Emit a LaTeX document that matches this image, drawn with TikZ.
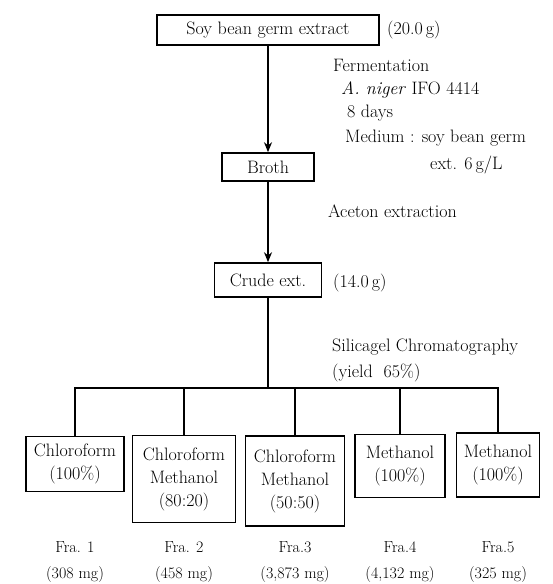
\documentclass[tikz,border=0pt]{standalone}
\usetikzlibrary{arrows.meta,positioning}
\tikzset{
  stepbox/.style={draw,line width=1.6pt,inner sep=1pt,align=center},
  note/.style={anchor=west,inner sep=0pt},
  flow/.style={line width=1.5pt},
  flowarrow/.style={flow,-{Stealth[length=10pt,width=8pt]}}
}
\begin{document}
\begin{tikzpicture}[x=1pt,y=-1pt,font=\fontsize{18}{23}\selectfont]
            \useasboundingbox (0,0) rectangle (552,584);
            %draw the main column of boxes
            \node[stepbox,minimum width=222pt,minimum height=30pt] (soy) at (268,30) {Soy bean germ extract};
            \node[stepbox,minimum width=92pt,minimum height=28pt] (broth) at (268,167) {Broth};
            \node[stepbox,minimum width=107pt,minimum height=34pt] (crude) at (268,280) {Crude ext.};
            \draw[flowarrow] (soy.south) -- (broth.north);
            \draw[flowarrow] (broth.south) -- (crude.north);
            %notes on the right
            \node[note] (amountsoy) at (387,30) {(20.0\,g)};
            \node[note] (ferm) at (333,65) {Fermentation};
            \node[note] (strain) at (341,90) {\textit{A. niger} IFO 4414};
            \node[note] (days) at (347,113) {8 days};
            \node[note] (medium) at (345,138) {Medium : soy bean germ};
            \node[note] (mediumext) at (430,165) {ext. 6\,g/L};
            \node[note] (aceton) at (328,211) {Aceton extraction};
            \node[note] (amountcrude) at (333,283) {(14.0\,g)};
            \node[note] (silica) at (332,347) {Silicagel Chromatography};
            \node[note] (yield) at (332,373) {(yield\ \ 65\%)};
            %the five fractions
            \foreach \i/\cx/\cy/\w/\h/\txt in {
              1/75/464/98/55/{Chloroform\\(100\%)},
              2/184/479/103/87/{Chloroform\\Methanol\\(80:20)},
              3/295/481/99/90/{Chloroform\\Methanol\\(50:50)},
              4/400/466/90/63/{Methanol\\(100\%)},
              5/498/465/83/64/{Methanol\\(100\%)}}
            \node[stepbox,minimum width=\w pt,minimum height=\h pt] (f\i) at (\cx,\cy) {\txt};
            \coordinate (bus) at (crude.south |- 0,388);
            \draw[flow] (crude.south) -- (bus);
            \foreach \i in {1,...,5}
            \draw[flow] (bus) -| (f\i.north);
            \foreach \i/\fra/\mass in {1/{Fra. 1}/{(308 mg)},2/{Fra. 2}/{(458 mg)},3/{Fra.3}/{(3,873 mg)},4/{Fra.4}/{(4,132 mg)},5/{Fra.5}/{(325 mg)}}
            \node[font=\fontsize{16}{26}\selectfont,align=center,inner sep=0pt] (lab\i) at (f\i |- 0,562) {\fra\\\mass};
            \end{tikzpicture}
\end{document}
